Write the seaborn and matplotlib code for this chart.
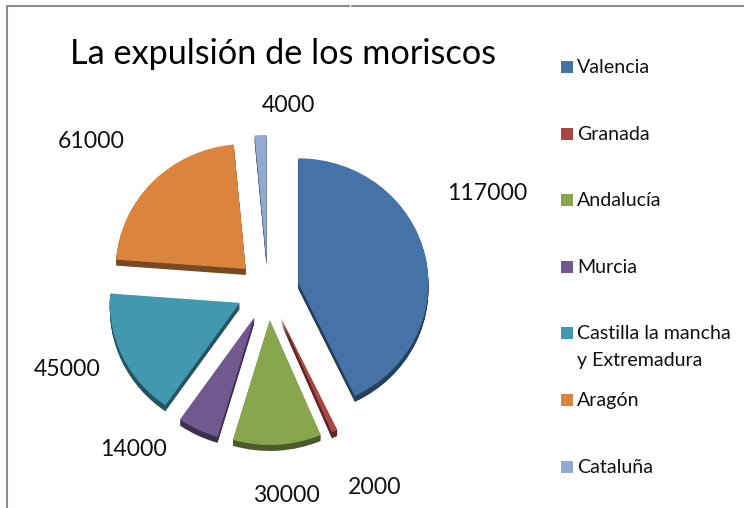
import matplotlib
matplotlib.use("Agg")
import matplotlib.pyplot as plt
from matplotlib.colors import to_rgb
from matplotlib.patches import Rectangle
import seaborn as sns

regiones = ["Valencia", "Granada", "Andalucía", "Murcia",
            "Castilla la mancha\ny Extremadura", "Aragón", "Cataluña"]
expulsados = [117000, 2000, 30000, 14000, 45000, 61000, 4000]
colores = ["#4572A7", "#AA4643", "#89A54E", "#71588F", "#4198AF", "#DB843D", "#93A9CF"]
titulo = "La expulsión de los moriscos"

W, H = 744, 508

sns.set_theme(style="white")
plt.rcParams["font.family"] = ["Lato", "DejaVu Sans"]

fig = plt.figure(figsize=(W / 100, H / 100), dpi=100)

# overlay in pixel coordinates, y going down
bg = fig.add_axes([0, 0, 1, 1])
bg.set_xlim(0, W)
bg.set_ylim(H, 0)
bg.axis("off")

bg.plot([7, 7], [508, 6], color="#8c8c8c", lw=1.5)
bg.plot([7, 744], [6, 6], color="#8c8c8c", lw=1.5)
bg.plot([350, 350], [4.5, 7.5], color="white", lw=1)

# pie axes: one unit is 130 px wide, 125 px high
rx, ry = 130, 125
cx, cy = 268, 290
span = 2.0
ax = fig.add_axes([(cx - span * rx) / W, 1 - (cy + span * ry) / H,
                   2 * span * rx / W, 2 * span * ry / H])
ax.patch.set_alpha(0)

explode = [0.24] * len(expulsados)
sombra = [tuple(v * 0.55 for v in to_rgb(c)) for c in colores]
sin_borde = {"linewidth": 0}

# extruded side, darker copies stepping down
for paso in range(6, 0, -1):
    ax.pie(expulsados, colors=sombra, explode=explode, startangle=90,
           counterclock=False, center=(0, -paso / ry), wedgeprops=sin_borde)
ax.pie(expulsados, colors=colores, explode=explode, startangle=90,
       counterclock=False, wedgeprops=sin_borde)
ax.set_aspect("auto")
ax.set_xlim(-span, span)
ax.set_ylim(-span, span)

bg.set_zorder(2)

bg.text(70, 54, titulo, fontsize=24.7, color="black", va="center", ha="left")

etiquetas_pos = [(487, 194), (375, 488), (286, 495), (133, 450), (67, 369), (91, 142), (288, 105)]
for (x, y), v in zip(etiquetas_pos, expulsados):
    bg.text(x, y, str(v), fontsize=16.6, color="#111111", ha="center", va="center")

leyenda_y = [67, 134, 200, 267, 333, 400, 467]
for nombre, color, y in zip(regiones, colores, leyenda_y):
    bg.add_patch(Rectangle((561, y - 6), 12, 12, facecolor=color, edgecolor="none"))
    bg.text(577, y - 8, nombre, fontsize=14.1, color="#111111", ha="left", va="top",
            linespacing=1.7)

fig.savefig("out.png", dpi=100)
